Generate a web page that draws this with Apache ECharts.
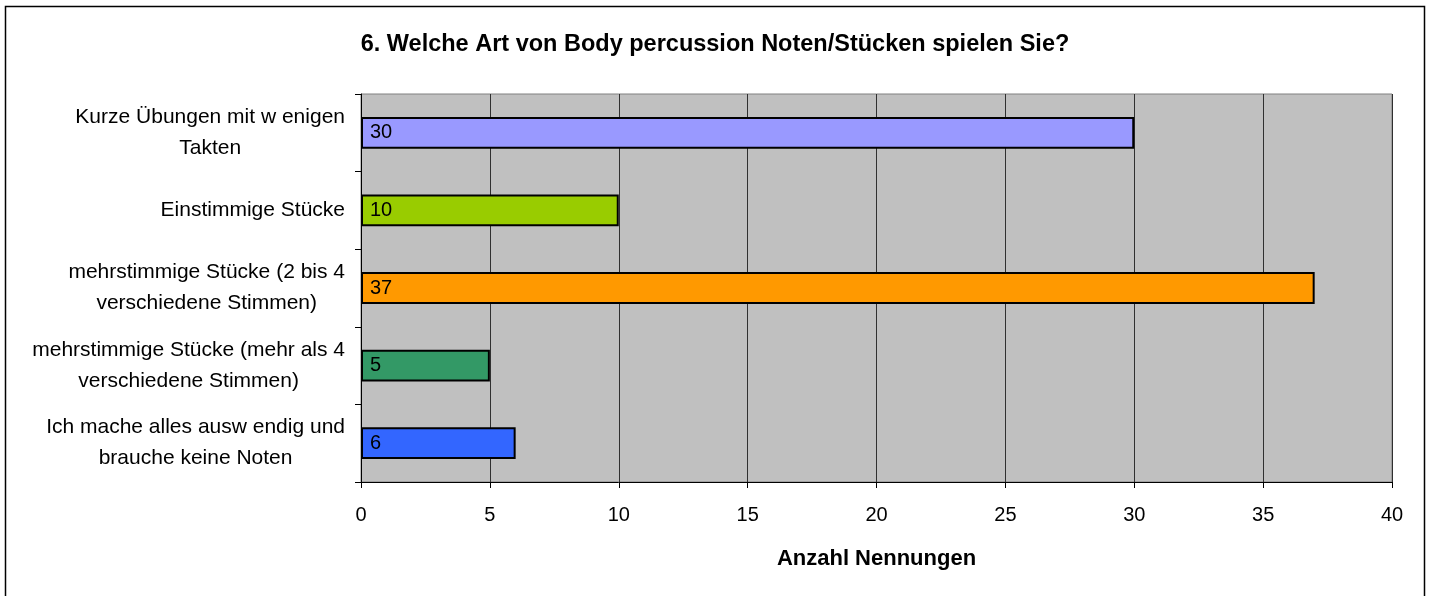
<!DOCTYPE html>
<html>
<head>
<meta charset="utf-8">
<script src="https://cdn.jsdelivr.net/npm/echarts@6/dist/echarts.min.js"></script>
<style>
html,body{margin:0;padding:0;background:#fff;}
#c{width:1430px;height:596px;}
</style>
</head>
<body>
<div id="c"></div>
<script>
const title = "6. Welche Art von Body percussion Noten/Stücken spielen Sie?";
const categories = [
  "Kurze Übungen mit w enigen\nTakten",
  "Einstimmige Stücke",
  "mehrstimmige Stücke (2 bis 4\nverschiedene Stimmen)",
  "mehrstimmige Stücke (mehr als 4\nverschiedene Stimmen)",
  "Ich mache alles ausw endig und\nbrauche keine Noten"
];
const values = [30, 10, 37, 5, 6];
const xAxisName = "Anzahl Nennungen";
const barColors = ["#9999FF", "#99CC00", "#FF9900", "#339966", "#3366FF"];

const chart = echarts.init(document.getElementById('c'), null, {renderer: 'canvas'});
const font = "Liberation Sans, Arial, sans-serif";
chart.setOption({
  animation: false,
  backgroundColor: '#ffffff',
  textStyle: {fontFamily: font},
  title: {
    text: title,
    left: 'center',
    top: 28,
    textStyle: {fontSize: 23.5, fontWeight: 'bold', color: '#000', fontFamily: font}
  },
  grid: {
    left: 361, right: 38, top: 94, bottom: 114,
    show: true, backgroundColor: '#C0C0C0', borderColor: '#808080', borderWidth: 1
  },
  xAxis: {
    type: 'value', min: 0, max: 40, interval: 5,
    name: xAxisName, nameLocation: 'middle', nameGap: 66,
    nameTextStyle: {fontSize: 22, fontWeight: 'bold', color: '#000', fontFamily: font},
    axisLine: {show: true, lineStyle: {color: '#000', width: 1}},
    axisTick: {show: true, length: 6, lineStyle: {color: '#000'}},
    axisLabel: {fontSize: 20, color: '#000', margin: 23, fontFamily: font},
    splitLine: {show: true, lineStyle: {color: '#303030', width: 1}}
  },
  yAxis: {
    type: 'category', inverse: true, data: categories,
    axisLine: {show: true, lineStyle: {color: '#000', width: 1}},
    axisTick: {show: true, length: 6, lineStyle: {color: '#000'}},
    axisLabel: {
      color: '#000', margin: 16, align: 'right', fontFamily: font,
      formatter: v => v.split('\n').map(l => '{c|' + l + '}').join('\n'),
      rich: {c: {align: 'center', fontSize: 21, lineHeight: 31, color: '#000', fontFamily: font}}
    },
    splitLine: {show: false}
  },
  series: [{
    type: 'bar',
    barWidth: '41%',
    data: values.map((v, i) => ({value: v, itemStyle: {color: barColors[i]}})),
    itemStyle: {borderColor: '#000', borderWidth: 2},
    label: {show: true, position: 'insideLeft', distance: 9, fontSize: 20, color: '#000', fontFamily: font}
  }],
  graphic: [{
    type: 'rect', silent: true, z: 100,
    shape: {x: 5.5, y: 6.5, width: 1419, height: 600},
    style: {fill: 'none', stroke: '#000', lineWidth: 1.5}
  }]
});
</script>
</body>
</html>
